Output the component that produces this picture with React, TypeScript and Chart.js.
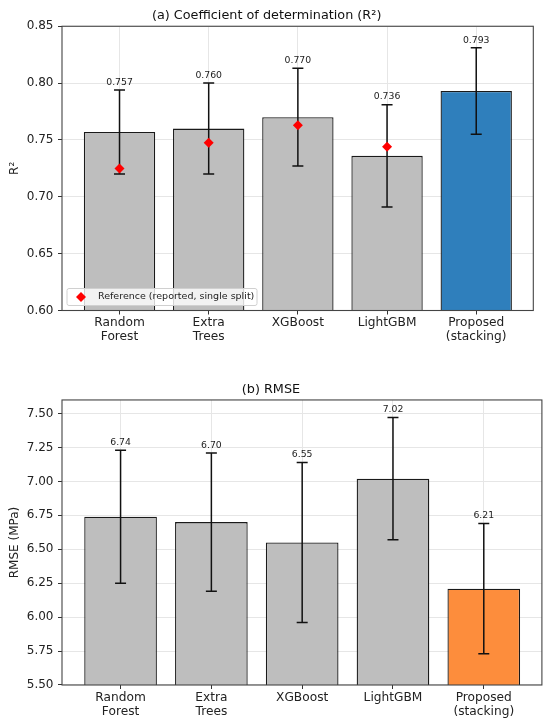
import React, { useEffect, useRef } from "react";
import { Chart, registerables, Plugin } from "chart.js";

Chart.register(...registerables);
Chart.defaults.font.family = "'DejaVu Sans', sans-serif";
Chart.defaults.color = "#222";

// data
const models = [
  ["Random", "Forest"],
  ["Extra", "Trees"],
  ["XGBoost"],
  ["LightGBM"],
  ["Proposed", "(stacking)"],
];
const r2Mean = [0.757, 0.76, 0.77, 0.736, 0.793];
const r2Std = [0.037, 0.04, 0.043, 0.045, 0.038];
const r2Reference = [0.725, 0.7475, 0.763, 0.744, null];
const r2Ticks = [0.6, 0.65, 0.7, 0.75, 0.8, 0.85];

const rmseMean = [6.74, 6.7, 6.55, 7.02, 6.21];
const rmseStd = [0.49, 0.51, 0.59, 0.45, 0.48];
const rmseTicks = [5.5, 5.75, 6.0, 6.25, 6.5, 6.75, 7.0, 7.25, 7.5];

const GRAY = "#bebebe";
const BLUE = "#2f7fbc";
const ORANGE = "#fd8d3c";
const GRID = "#e6e6e6";

interface PanelProps {
  title: string;
  yTitle: string;
  means: number[];
  stds: number[];
  reference?: (number | null)[];
  highlight: string;
  ticks: number[];
  yMin: number;
  yMax: number;
  decimals: number;
  height: number;
  titlePad: { top: number; bottom: number };
  xAxisHeight: number;
  rightPad: number;
}

const Panel = ({
  title,
  yTitle,
  means,
  stds,
  reference,
  highlight,
  ticks,
  yMin,
  yMax,
  decimals,
  height,
  titlePad,
  xAxisHeight,
  rightPad,
}: PanelProps) => {
  const canvasRef = useRef<HTMLCanvasElement>(null);

  useEffect(() => {
    if (!canvasRef.current) return;

    // error bars + value labels, drawn right after the bars
    const errorBars: Plugin<"bar"> = {
      id: "errorBars",
      afterDatasetDraw(chart, args) {
        if (args.index !== 0) return;
        const { ctx, scales } = chart;
        const x = scales.x;
        const y = scales.y;
        ctx.save();
        ctx.strokeStyle = "#111";
        ctx.lineWidth = 1.5;
        means.forEach((m, i) => {
          const px = x.getPixelForValue(i);
          const top = y.getPixelForValue(m + stds[i]);
          const bot = y.getPixelForValue(m - stds[i]);
          ctx.beginPath();
          ctx.moveTo(px, top);
          ctx.lineTo(px, bot);
          ctx.moveTo(px - 5.5, top);
          ctx.lineTo(px + 5.5, top);
          ctx.moveTo(px - 5.5, bot);
          ctx.lineTo(px + 5.5, bot);
          ctx.stroke();
        });
        ctx.fillStyle = "#222";
        ctx.font = "9.3px 'DejaVu Sans'";
        ctx.textAlign = "center";
        ctx.textBaseline = "bottom";
        means.forEach((m, i) => {
          const px = x.getPixelForValue(i);
          const top = y.getPixelForValue(m + stds[i]);
          ctx.fillText(m.toFixed(decimals), px, top - 3);
        });
        ctx.restore();
      },
      afterDraw(chart) {
        const { ctx, chartArea } = chart;
        ctx.save();
        // legend for the reference markers
        if (reference) {
          const lx = chartArea.left + 5;
          const ly = chartArea.bottom - 22;
          ctx.fillStyle = "rgba(255,255,255,0.8)";
          ctx.strokeStyle = "#d0d0d0";
          ctx.lineWidth = 1;
          ctx.beginPath();
          ctx.roundRect(lx, ly, 190, 17, 2);
          ctx.fill();
          ctx.stroke();
          const dx = lx + 14;
          const dy = ly + 8.5;
          ctx.fillStyle = "red";
          ctx.beginPath();
          ctx.moveTo(dx, dy - 5);
          ctx.lineTo(dx + 5, dy);
          ctx.lineTo(dx, dy + 5);
          ctx.lineTo(dx - 5, dy);
          ctx.closePath();
          ctx.fill();
          ctx.fillStyle = "#222";
          ctx.font = "9.5px 'DejaVu Sans'";
          ctx.textAlign = "left";
          ctx.textBaseline = "middle";
          ctx.fillText("Reference (reported, single split)", lx + 31, dy);
        }
        // axes frame
        ctx.strokeStyle = "#444";
        ctx.lineWidth = 1.1;
        ctx.strokeRect(
          chartArea.left,
          chartArea.top,
          chartArea.right - chartArea.left,
          chartArea.bottom - chartArea.top
        );
        ctx.restore();
      },
    };

    const datasets: any[] = [
      {
        type: "bar",
        data: means.map((m, i) => ({ x: i, y: m })),
        backgroundColor: means.map((_, i) =>
          i === means.length - 1 ? highlight : GRAY
        ),
        borderColor: "#1a1a1a",
        borderWidth: 1.3,
        borderSkipped: false,
        barPercentage: 0.8,
        categoryPercentage: 1,
        order: 2,
      },
    ];
    if (reference) {
      datasets.push({
        type: "scatter",
        data: reference
          .map((v, i) => (v === null ? null : { x: i, y: v }))
          .filter((p) => p !== null),
        pointStyle: "rectRot",
        pointRadius: 5,
        backgroundColor: "red",
        borderWidth: 0,
        order: 1,
      });
    }

    const chart = new Chart(canvasRef.current, {
      type: "bar",
      data: { datasets },
      options: {
        animation: false,
        responsive: true,
        maintainAspectRatio: false,
        layout: { padding: { left: 0, right: rightPad, top: 0, bottom: 0 } },
        plugins: {
          legend: { display: false },
          tooltip: { enabled: false },
          title: {
            display: true,
            text: title,
            color: "#111",
            font: { size: 12.8, weight: "normal", lineHeight: 1.2 },
            padding: titlePad,
          },
        },
        scales: {
          x: {
            type: "linear",
            min: -0.645,
            max: 4.64,
            offset: false,
            afterBuildTicks: (scale) => {
              scale.ticks = models.map((_, i) => ({ value: i }));
            },
            afterFit: (scale) => {
              scale.height = xAxisHeight;
            },
            ticks: {
              autoSkip: false,
              maxRotation: 0,
              padding: 2,
              color: "#222",
              font: { size: 12.2, lineHeight: 1.12 },
              callback: (value) => models[Number(value)],
            },
            grid: {
              offset: false,
              color: GRID,
              tickColor: "#333",
              tickLength: 4,
            },
            border: { display: false },
          },
          y: {
            min: yMin,
            max: yMax,
            afterBuildTicks: (scale) => {
              scale.ticks = ticks.map((v) => ({ value: v }));
            },
            afterFit: (scale) => {
              scale.width = 62;
            },
            ticks: {
              padding: 4.5,
              color: "#222",
              font: { size: 12 },
              callback: (value) => Number(value).toFixed(2),
            },
            grid: {
              color: GRID,
              tickColor: "#333",
              tickLength: 4,
            },
            border: { display: false },
            title: {
              display: true,
              text: yTitle,
              color: "#222",
              font: { size: 12 },
              padding: { top: 8, bottom: 0 },
            },
          },
        },
      },
      plugins: [errorBars],
    });

    return () => chart.destroy();
  }, []);

  return (
    <div style={{ position: "relative", width: 550, height }}>
      <canvas ref={canvasRef} />
    </div>
  );
};

export default function App() {
  return (
    <div
      style={{
        position: "absolute",
        left: 0,
        top: 0,
        width: 550,
        height: 728,
        background: "#fff",
      }}
    >
      <Panel
        title="(a) Coefficient of determination (R²)"
        yTitle="R²"
        means={r2Mean}
        stds={r2Std}
        reference={r2Reference}
        highlight={BLUE}
        ticks={r2Ticks}
        yMin={0.6}
        yMax={0.85}
        decimals={3}
        height={360}
        titlePad={{ top: 8.3, bottom: 2.6 }}
        xAxisHeight={49.5}
        rightPad={16.7}
      />
      <Panel
        title="(b) RMSE"
        yTitle="RMSE (MPa)"
        means={rmseMean}
        stds={rmseStd}
        highlight={ORANGE}
        ticks={rmseTicks}
        yMin={5.5}
        yMax={7.6}
        decimals={2}
        height={368}
        titlePad={{ top: 21.6, bottom: 3 }}
        xAxisHeight={43}
        rightPad={8.1}
      />
    </div>
  );
}
